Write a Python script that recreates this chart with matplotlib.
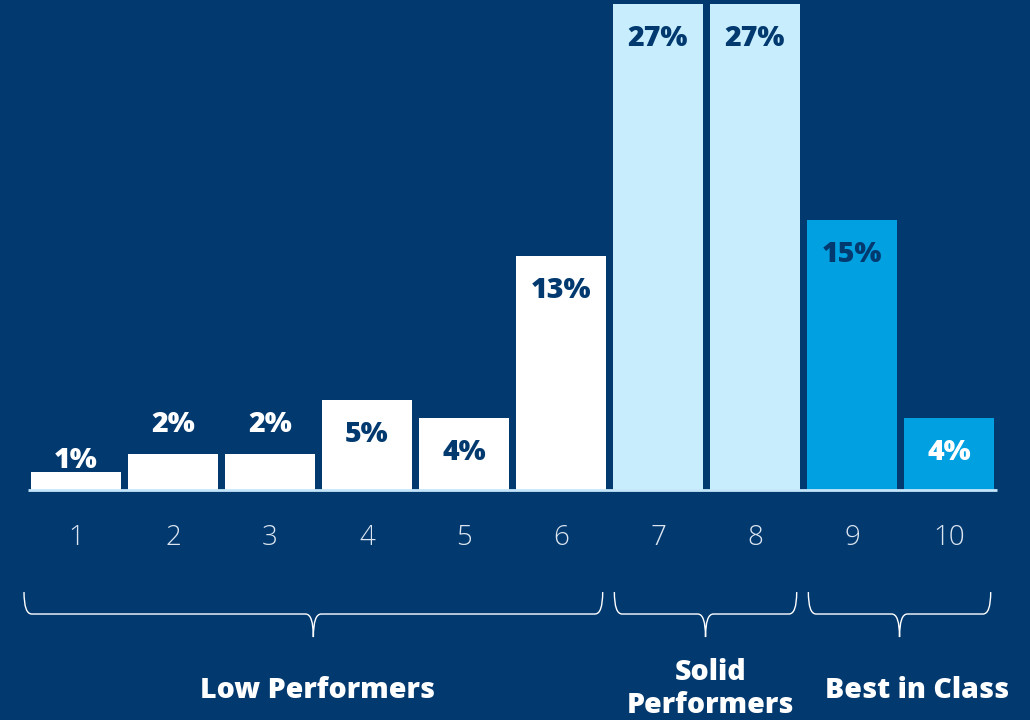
import matplotlib
matplotlib.use("Agg")
import matplotlib.pyplot as plt
from matplotlib.path import Path
from matplotlib.patches import PathPatch

# data
scores = [1, 2, 3, 4, 5, 6, 7, 8, 9, 10]
shares = [1, 2, 2, 5, 4, 13, 27, 27, 15, 4]
groups = ["Low Performers", "Solid\nPerformers", "Best in Class"]
group_ranges = [(1, 6), (7, 8), (9, 10)]

BG = "#023A70"
WHITE = "#FFFFFF"
LIGHT = "#C8EEFE"
BLUE = "#00A0E1"
bar_colors = [WHITE] * 6 + [LIGHT] * 2 + [BLUE] * 2
label_colors = [WHITE, WHITE, WHITE, BG, BG, BG, BG, BG, BG, WHITE]
name_shift = [0.04, 0.05, 0.18]   # group labels sit a bit right of the brace tip

plt.rcParams['font.family'] = ['Open Sans', 'DejaVu Sans']

fig = plt.figure(figsize=(10.3, 7.2), dpi=100)
fig.patch.set_facecolor(BG)
ax = fig.add_axes([0, 0, 1, 1])
ax.set_facecolor(BG)
ax.set_xlim(1 - 76 / 97, 1 + (1030 - 76) / 97)
ax.set_ylim(-230 / 18, 490 / 18)
ax.axis("off")

ax.bar(scores, shares, width=0.928, color=bar_colors, zorder=2)
ax.plot([0.505, 10.49], [0, 0], color="#C5E6FA", lw=2, zorder=3, solid_capstyle="butt")

for x, v, c in zip(scores, shares, label_colors):
    if v <= 2:
        # small bars: label sits above
        off = 11 if v == 1 else 29
    else:
        off = -34
    ax.annotate(f"{v}%", (x, v), xytext=(0, off), textcoords="offset pixels",
                ha="center", va="center", color=c, fontsize=20.5, fontweight="heavy", zorder=4)
    ax.text(x, -2.67, str(x), ha="center", va="center", color="#DDE6F0",
            fontsize=20, fontweight="light")

# braces under groups
top, mid, tip = -5.67, -6.89, -8.17
dx = 0.08
for (a, b), name, sh in zip(group_ranges, groups, name_shift):
    x0 = a - 0.45 if a > 1 else a - 0.536
    x1 = b + 0.43
    xm = (x0 + x1) / 2
    verts = [(x0, top), (x0, mid), (x0 + dx, mid),
             (xm - dx, mid), (xm, mid), (xm, tip),
             (xm, mid), (xm + dx, mid),
             (x1 - dx, mid), (x1, mid), (x1, top)]
    codes = [Path.MOVETO, Path.CURVE3, Path.CURVE3,
             Path.LINETO, Path.CURVE3, Path.CURVE3,
             Path.CURVE3, Path.CURVE3,
             Path.LINETO, Path.CURVE3, Path.CURVE3]
    ax.add_patch(PathPatch(Path(verts, codes), fill=False, edgecolor=WHITE, lw=1))
    if "\n" in name:
        ax.text(xm + sh, -11.07, name, ha="center", va="center", color=WHITE,
                fontsize=20.5, fontweight="heavy", linespacing=1.2)
    else:
        ax.text(xm + sh, -11.15, name, ha="center", va="center", color=WHITE,
                fontsize=20.5, fontweight="heavy")

fig.savefig("out.png", dpi=100, facecolor=BG)
